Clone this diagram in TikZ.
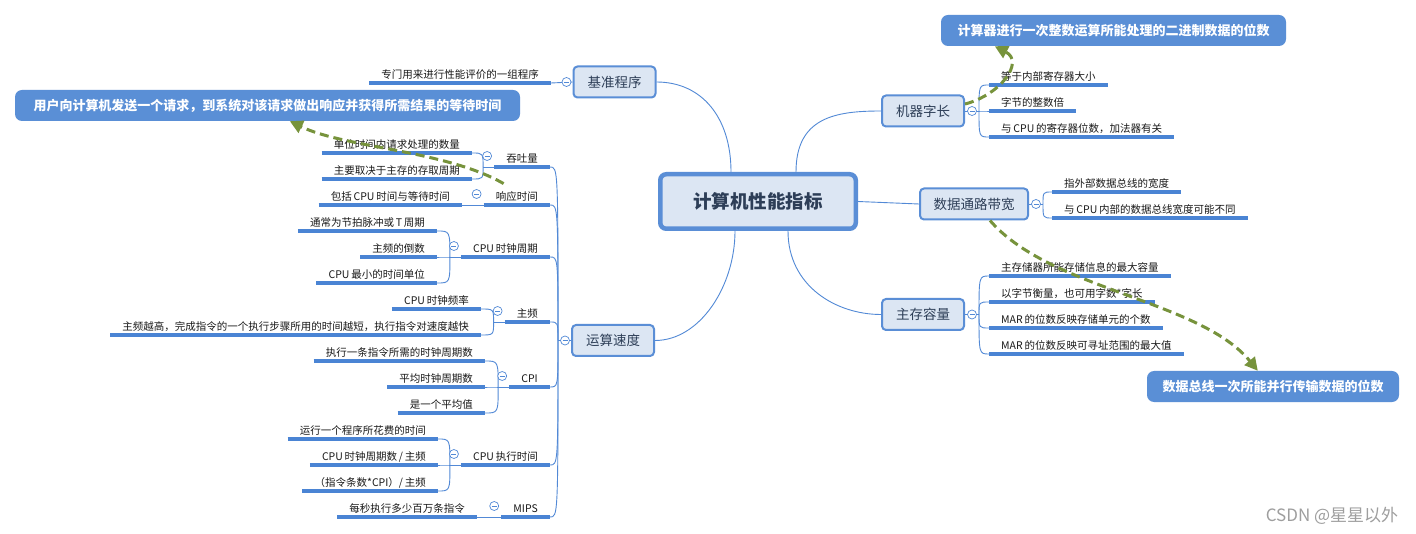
\documentclass[tikz,border=0pt]{standalone}
\usepackage{fontspec}
\setmainfont{Noto Sans CJK SC}
\usetikzlibrary{calc,arrows.meta}
\definecolor{mapblue}{HTML}{5289D6}
\definecolor{ulblue}{HTML}{4A84D4}
\definecolor{boxfill}{HTML}{DCE6F3}
\definecolor{boxline}{HTML}{5A8ED6}
\definecolor{callblue}{HTML}{5A8FD6}
\definecolor{notegreen}{HTML}{77933C}
\definecolor{topictext}{HTML}{2D3E57}
\newcommand{\leaffont}{\fontsize{10.5}{12}\selectfont}
\newcommand{\mainfont}{\fontsize{13.5}{15}\selectfont}
\newcommand{\callfont}{\fontsize{13}{15}\selectfont\bfseries}
\def\mapleaf[#1](#2)#3#4{\node[leaf,anchor=#1] (#3) at (#2) {#4}; \draw[ulblue, line width=3.2pt] (#3.south west) -- (#3.south east);}
\tikzset{
  root/.style={draw=boxline, line width=4.5pt, fill=boxfill, rounded corners=6pt, minimum width=195.5pt, minimum height=54.5pt, text=topictext, font=\fontsize{18.5}{20}\selectfont\bfseries},
  main/.style={draw=boxline, line width=2pt, fill=boxfill, rounded corners=4pt, minimum width=82pt, minimum height=31pt, text=topictext, font=\mainfont},
  leaf/.style={font=\leaffont, text=black!90, inner xsep=12pt, inner ysep=2.5pt, text height=8.5pt, text depth=1.5pt},
  link/.style={draw=mapblue, line width=0.9pt},
  fold/.style={circle, draw=mapblue, fill=white, line width=0.7pt, minimum size=9pt, inner sep=0pt,
    path picture={\draw[mapblue, line width=0.7pt] ([xshift=-2.5pt]path picture bounding box.center) -- ([xshift=2.5pt]path picture bounding box.center);}},
  callout/.style={fill=callblue, rounded corners=7pt, text=white, font=\callfont, minimum height=31pt, inner xsep=10pt},
  note/.style={draw=notegreen, line width=3pt, dash pattern=on 9pt off 5pt, -{Triangle[length=13pt,width=13pt]}},
  wmark/.style={text=black!38, font=\fontsize{17}{19}\selectfont}
}
\begin{document}
\begin{tikzpicture}[x=1pt,y=-1pt]
	\fill[white] (0,0) rectangle (1416,534);
	\useasboundingbox (0,0) rectangle (1416,534);
	
	%%%%% CENTRE %%%%%
	\node[root] (cpu) at (758,201.5) {计算机性能指标};
	
	\node[main] (jz) at (614.5,82) {基准程序};
	\node[main] (ys) at (613,340.5) {运算速度};
	\node[main] (jq) at (923,111) {机器字长};
	\node[main, minimum width=108pt] (sj) at (974,204) {数据通路带宽};
	\node[main] (zc) at (923,314.5) {主存容量};
	
	\coordinate (r1) at ($(cpu.north west)+(73,0)$);
	\coordinate (r2) at ($(cpu.north west)+(138,0)$);
	\coordinate (r3) at ($(cpu.south west)+(77,0)$);
	\coordinate (r4) at ($(cpu.south west)+(130,0)$);
	
	\draw[link] (jz.east) .. controls +(45,0) and +(0,-55) .. (r1);
	\draw[link] (ys.east) .. controls +(45,0) and +(0,55) .. (r3);
	\draw[link] (jq.west) .. controls +(-45,0) and +(0,-55) .. (r2);
	\draw[link] (zc.west) .. controls +(-45,0) and +(0,55) .. (r4);
	\draw[link] (cpu.east) -- (sj.west);
	
	%%%%% LEFT %%%%%
	\mapleaf[south east](551,83){jz1}{专门用来进行性能评价的一组程序}
	\draw[link] (jz.west) -- (jz1.south east);
	\node[fold] (fjz) at ($(jz.west)+(-6,0)$) {};
	
	\mapleaf[south east](550,167){tt}{吞吐量}
	\mapleaf[south east](550,205){xy}{响应时间}
	\mapleaf[south east](550,257){zq}{CPU\,时钟周期}
	\mapleaf[south east](550,322){zp}{主频}
	\mapleaf[south east](550,387){cpi}{CPI}
	\mapleaf[south east](550,465){zx}{CPU\,执行时间}
	\mapleaf[south east](550,517){mips}{MIPS}
	
	\coordinate (ysj) at ($(ys.west)+(-13,0)$);
	\draw[link] (ys.west) -- (ysj);
	\foreach \k in {tt,xy,zq,zp,cpi,zx,mips}
		{\draw[link] (ysj) .. controls (ysj |- \k.south east) .. (\k.south east);}
	\node[fold] (fys) at ($(ys.west)+(-6,0)$) {};
	
	\mapleaf[south east](472,153){tt1}{单位时间内请求处理的数量}
	\mapleaf[south east](472,179){tt2}{主要取决于主存的存取周期}
	\coordinate (ttj) at ($(tt.south west)+(-11,0)$);
	\draw[link] (tt.south west) -- (ttj);
	\foreach \k in {tt1,tt2}
		{\draw[link] (ttj) .. controls (ttj |- \k.south east) .. (\k.south east);}
	\node[fold] (ftt) at ($(tt.south west)+(-7,-11)$) {};
	
	\mapleaf[south east](462,205){xy1}{包括\,CPU\,时间与等待时间}
	\draw[link] (xy.south west) -- (xy1.south east);
	\node[fold] (fxy) at ($(xy.south west)+(-7,-11)$) {};
	
	\mapleaf[south east](437,231){zq1}{通常为节拍脉冲或\,T\,周期}
	\mapleaf[south east](437,257){zq2}{主频的倒数}
	\mapleaf[south east](437,283){zq3}{CPU\,最小的时间单位}
	\coordinate (zqj) at ($(zq.south west)+(-11,0)$);
	\draw[link] (zq.south west) -- (zqj);
	\foreach \k in {zq1,zq2,zq3}
		{\draw[link] (zqj) .. controls (zqj |- \k.south east) .. (\k.south east);}
	\node[fold] (fzq) at ($(zq.south west)+(-7,-11)$) {};
	
	\mapleaf[south east](481,309){zp1}{CPU\,时钟频率}
	\mapleaf[south east](481,335){zp2}{主频越高，完成指令的一个执行步骤所用的时间越短，执行指令对速度越快}
	\coordinate (zpj) at ($(zp.south west)+(-11,0)$);
	\draw[link] (zp.south west) -- (zpj);
	\foreach \k in {zp1,zp2}
		{\draw[link] (zpj) .. controls (zpj |- \k.south east) .. (\k.south east);}
	\node[fold] (fzp) at ($(zp.south west)+(-7,-11)$) {};
	
	\mapleaf[south east](485,361){cpi1}{执行一条指令所需的时钟周期数}
	\mapleaf[south east](485,387){cpi2}{平均时钟周期数}
	\mapleaf[south east](485,413){cpi3}{是一个平均值}
	\coordinate (cpij) at ($(cpi.south west)+(-11,0)$);
	\draw[link] (cpi.south west) -- (cpij);
	\foreach \k in {cpi1,cpi2,cpi3}
		{\draw[link] (cpij) .. controls (cpij |- \k.south east) .. (\k.south east);}
	\node[fold] (fcpi) at ($(cpi.south west)+(-7,-11)$) {};
	
	\mapleaf[south east](438,439){zx1}{运行一个程序所花费的时间}
	\mapleaf[south east](438,465){zx2}{CPU\,时钟周期数\,/\,主频}
	\mapleaf[south east](438,491){zx3}{（指令条数*CPI）/\,主频}
	\coordinate (zxj) at ($(zx.south west)+(-11,0)$);
	\draw[link] (zx.south west) -- (zxj);
	\foreach \k in {zx1,zx2,zx3}
		{\draw[link] (zxj) .. controls (zxj |- \k.south east) .. (\k.south east);}
	\node[fold] (fzx) at ($(zx.south west)+(-7,-11)$) {};
	
	\mapleaf[south east](477,517){mips1}{每秒执行多少百万条指令}
	\draw[link] (mips.south west) -- (mips1.south east);
	\node[fold] (fmips) at ($(mips.south west)+(-7,-11)$) {};
	
	%%%%% RIGHT %%%%%
	\mapleaf[south west](989,85){jq1}{等于内部寄存器大小}
	\mapleaf[south west](989,111){jq2}{字节的整数倍}
	\mapleaf[south west](989,137){jq3}{与\,CPU\,的寄存器位数，加法器有关}
	\coordinate (jqj) at ($(jq.east)+(14,0)$);
	\draw[link] (jq.east) -- (jqj);
	\foreach \k in {jq1,jq2,jq3}
		{\draw[link] (jqj) .. controls (jqj |- \k.south west) .. (\k.south west);}
	\node[fold] (fjq) at ($(jq.east)+(7,0)$) {};
	
	\mapleaf[south west](1052,192){sj1}{指外部数据总线的宽度}
	\mapleaf[south west](1052,218){sj2}{与\,CPU\,内部的数据总线宽度可能不同}
	\coordinate (sjj) at ($(sj.east)+(14,0)$);
	\draw[link] (sj.east) -- (sjj);
	\foreach \k in {sj1,sj2}
		{\draw[link] (sjj) .. controls (sjj |- \k.south west) .. (\k.south west);}
	\node[fold] (fsj) at ($(sj.east)+(7,0)$) {};
	
	\mapleaf[south west](989,276){zc1}{主存储器所能存储信息的最大容量}
	\mapleaf[south west](989,302){zc2}{以字节衡量，也可用字数*字长}
	\mapleaf[south west](989,328){zc3}{MAR\,的位数反映存储单元的个数}
	\mapleaf[south west](989,354){zc4}{MAR\,的位数反映可寻址范围的最大值}
	\coordinate (zcj) at ($(zc.east)+(14,0)$);
	\draw[link] (zc.east) -- (zcj);
	\foreach \k in {zc1,zc2,zc3,zc4}
		{\draw[link] (zcj) .. controls (zcj |- \k.south west) .. (\k.south west);}
	\node[fold] (fzc) at ($(zc.east)+(7,0)$) {};
	
	%%%%% NOTES %%%%%
	\node[callout, minimum width=505pt] (call1) at (267.5,105.5) {用户向计算机发送一个请求，到系统对该请求做出响应并获得所需结果的等待时间};
	\node[callout, minimum width=345pt] (call2) at (1113.5,30.5) {计算器进行一次整数运算所能处理的二进制数据的位数};
	\node[callout, minimum width=252pt] (call3) at (1273,386.5) {数据总线一次所能并行传输数据的位数};
	
	\draw[note] ([shift={(20,-6)}]xy.north west) .. controls (445,150) and (345,148) .. ([xshift=275pt]call1.south west);
	\draw[note] ([yshift=7pt]jq.east) .. controls (1000,95) and (1025,62) .. ([xshift=54pt]call2.south west);
	\draw[note] ([xshift=16pt]sj.south) .. controls (1050,290) and (1200,300) .. ([xshift=111pt]call3.north west);
	
	\node[wmark] (csdn) at (1332,516) {CSDN @星星以外};
	
\end{tikzpicture}
\end{document}
